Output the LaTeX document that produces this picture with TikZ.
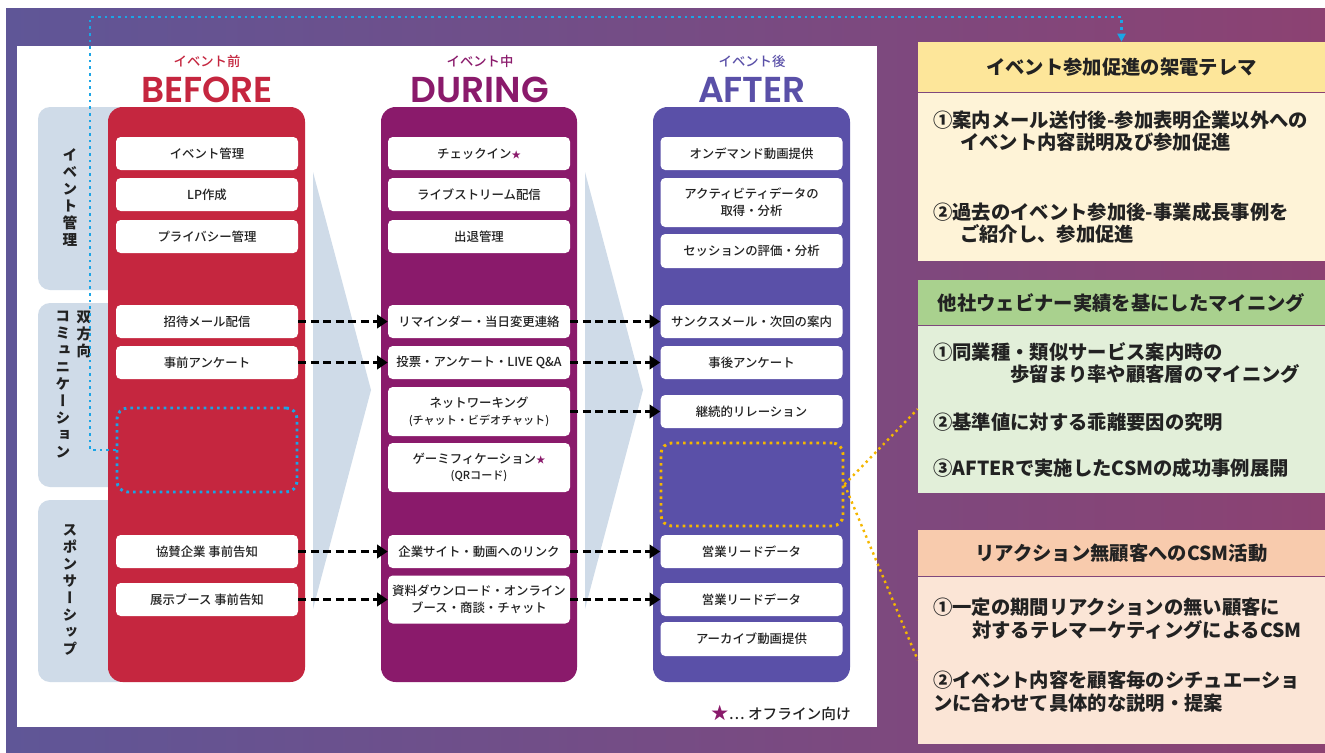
\documentclass[tikz,border=0pt]{standalone}
\usepackage{fontspec}
\setmainfont{Noto Sans CJK JP}
\newfontfamily\headfont{Poppins}[BoldFont={Poppins SemiBold}]
\newfontfamily\itemfont{Noto Sans CJK JP Medium}
\newfontfamily\vertfont{Noto Sans CJK JP}[RawFeature=+vert]
\usetikzlibrary{arrows.meta,positioning,calc}

\definecolor{beforeCol}{HTML}{C5263F}
\definecolor{duringCol}{HTML}{8A1A6B}
\definecolor{afterCol}{HTML}{5A50A8}
\definecolor{catCol}{HTML}{CFDBE8}
\definecolor{bgLeft}{HTML}{5F5697}
\definecolor{bgMid}{HTML}{7E6399}
\definecolor{bgRight}{HTML}{8C4272}
\definecolor{blueDot}{HTML}{1BA5E6}
\definecolor{goldDot}{HTML}{F5B700}
\definecolor{telHeadCol}{HTML}{FDE69A}
\definecolor{telBodyCol}{HTML}{FEF3D7}
\definecolor{mineHeadCol}{HTML}{A9D18E}
\definecolor{mineBodyCol}{HTML}{E2EFD9}
\definecolor{csmHeadCol}{HTML}{F8CBAD}
\definecolor{csmBodyCol}{HTML}{FBE5D6}
\definecolor{inkCol}{HTML}{222222}

\newcommand\offstar{{\color{duringCol}\fontsize{7}{7}\selectfont ★}}

\tikzset{
  item/.style={fill=white, rounded corners=3.5pt, minimum width=136.5pt, inner sep=0pt,
    align=center, text=inkCol, font=\itemfont\fontsize{9.3}{12.5}\selectfont},
  spare/.style={rounded corners=8pt, line width=2.2pt, dash pattern=on 2pt off 3pt},
  flow/.style={line width=2.4pt, dash pattern=on 6pt off 3.4pt, -{Triangle[length=8pt,width=10pt]}},
  bluedot/.style={blueDot, line width=2pt, dash pattern=on 2pt off 3pt, -{Triangle[length=6pt,width=6pt]}},
  golddot/.style={goldDot, line width=1.8pt, dash pattern=on 1.8pt off 2.8pt},
  phasejp/.style={inner sep=0pt, font=\itemfont\fontsize{10}{12}\selectfont},
  phaseen/.style={inner sep=0pt, font=\headfont\bfseries\fontsize{27}{27}\selectfont},
  catlabel/.style={anchor=north, inner sep=0pt, align=center, text=inkCol,
    font=\vertfont\bfseries\fontsize{11}{12.75}\selectfont},
  panelhead/.style={minimum width=305.25pt, inner sep=0pt, text=inkCol,
    font=\bfseries\fontsize{14.5}{17}\selectfont},
  panelbody/.style={minimum width=305.25pt, inner sep=0pt},
  paneltext/.style={anchor=west, inner sep=0pt, text=inkCol, font=\bfseries\fontsize{14.5}{17}\selectfont}
}

\begin{document}
\begin{tikzpicture}[x=0.75pt,y=-0.75pt]
  \useasboundingbox (0,0) rectangle (1325,753);

  % draw the background
  \shade[left color=bgLeft, middle color=bgMid, right color=bgRight] (6,8) rectangle (1325,753);
  \fill[white] (17,46) rectangle (877,727);

  % draw the category tabs and the chevrons
  \foreach \top/\bot in {107/290, 303/487, 500/682}
    \fill[catCol, rounded corners=9pt] (38,\top) rectangle (130,\bot);
  \foreach \x in {313, 585}
    \fill[catCol] (\x,172) -- (\x+58,390) -- (\x,609) -- cycle;

  \node[catlabel] (catEvent) at (70,148) {イ\\ベ\\ン\\ト\\管\\理};
  \node[catlabel] (catTwoWay) at (84,311) {双\\方\\向};
  \node[catlabel] (catComm) at (63,311) {コ\\ミ\\ュ\\ニ\\ケ\\ー\\シ\\ョ\\ン};
  \node[catlabel] (catSponsor) at (70,524) {ス\\ポ\\ン\\サ\\ー\\シ\\ッ\\プ};

  % draw the three phase columns
  \fill[beforeCol, rounded corners=11pt] (108,107) rectangle (305,682);
  \fill[duringCol, rounded corners=11pt] (381,107) rectangle (577,682);
  \fill[afterCol, rounded corners=11pt] (653,107) rectangle (850,682);

  \node[phasejp, text=beforeCol] (beforeJp) at (207,61.5) {イベント前};
  \node[phaseen, text=beforeCol] (beforeEn) at (207,89.5) {BEFORE};
  \node[phasejp, text=duringCol] (duringJp) at (480,61.5) {イベント中};
  \node[phaseen, text=duringCol] (duringEn) at (480,89.5) {DURING};
  \node[phasejp, text=afterCol] (afterJp) at (752,61.5) {イベント後};
  \node[phaseen, text=afterCol] (afterEn) at (752,89.5) {AFTER};

  % fill the columns with the items
  \def\beforeItems{153.5/33/{イベント管理}, 194.5/33/{LP作成}, 236.5/33/{プライバシー管理},
    321.5/33/{招待メール配信}, 362.5/33/{事前アンケート},
    551.5/33/{協賛企業 事前告知}, 599.5/33/{展示ブース 事前告知}}
  \def\duringItems{153.5/33/{チェックイン\offstar}, 194.5/33/{ライブストリーム配信}, 236.5/33/{出退管理},
    321.5/33/{リマインダー・当日変更連絡}, 362.5/33/{投票・アンケート・LIVE Q\&A},
    411.5/49/{ネットワーキング\\{\fontsize{8.3}{10}\selectfont (チャット・ビデオチャット)}},
    467.5/49/{ゲーミフィケーション\offstar\\{\fontsize{8.3}{10}\selectfont (QRコード)}},
    551.5/33/{企業サイト・動画へのリンク}, 599.5/48/{資料ダウンロード・オンライン\\ブース・商談・チャット}}
  \def\afterItems{153.5/33/{オンデマンド動画提供}, 202.5/49/{アクティビティデータの\\取得・分析},
    251/34/{セッションの評価・分析}, 321.5/33/{サンクスメール・次回の案内}, 362.5/33/{事後アンケート},
    411.5/33/{継続的リレーション}, 551.5/33/{営業リードデータ}, 599.5/33/{営業リードデータ},
    639/34/{アーカイブ動画提供}}

  \foreach \y/\h/\txt [count=\ni] in \beforeItems
    \node[item, minimum height={\h*0.75pt}] (b\ni) at (207,\y) {\txt};
  \foreach \y/\h/\txt [count=\ni] in \duringItems
    \node[item, minimum height={\h*0.75pt}] (d\ni) at (479,\y) {\txt};
  \foreach \y/\h/\txt [count=\ni] in \afterItems
    \node[item, minimum height={\h*0.75pt}] (a\ni) at (751.5,\y) {\txt};

  \node[spare, draw=blueDot, minimum width=135pt, minimum height=63pt] (bSpare) at (207,450) {};
  \node[spare, draw=goldDot, minimum width=136.5pt, minimum height=62.25pt] (aSpare) at (752,484.5) {};

  % draw the dashed flows
  \foreach \from/\to in {b4/d4, d4/a4, b5/d5, d5/a5, d6/a6, b6/d8, d8/a7, b7/d9, d9/a8}
    \draw[flow] (\from) -- (\to);

  \node[anchor=east, inner sep=0pt, text=inkCol, font=\itemfont\fontsize{11}{12}\selectfont] (legend)
    at (851,713) {{\color{duringCol}\fontsize{13}{13}\selectfont ★}… オフライン向け};

  % draw the advice panels
  \node[panelhead, fill=telHeadCol, minimum height=37.5pt] (telHead) at (1121.5,67) {イベント参加促進の架電テレマ};
  \node[panelbody, fill=telBodyCol, minimum height=126pt, below=0pt of telHead] (telBody) {};
  \node[panelhead, fill=mineHeadCol, minimum height=33.75pt] (mineHead) at (1121.5,302.5) {他社ウェビナー実績を基にしたマイニング};
  \node[panelbody, fill=mineBodyCol, minimum height=125.25pt, below=0pt of mineHead] (mineBody) {};
  \node[panelhead, fill=csmHeadCol, minimum height=34.5pt] (csmHead) at (1121.5,553) {リアクション無顧客へのCSM活動};
  \node[panelbody, fill=csmBodyCol, minimum height=125.25pt, below=0pt of csmHead] (csmBody) {};

  \foreach \x/\y/\txt [count=\ni] in {933/120/{①案内メール送付後-参加表明企業以外への},
    960/142/{イベント内容説明及び参加促進}, 933/212/{②過去のイベント参加後-事業成長事例を},
    960/234/{ご紹介し、参加促進}}
    \node[paneltext] (tel\ni) at (\x,\y) {\txt};
  \foreach \x/\y/\txt [count=\ni] in {933/352/{①同業種・類似サービス案内時の},
    1010/374/{歩留まり率や顧客層のマイニング}, 933/422/{②基準値に対する乖離要因の究明},
    933/468/{③AFTERで実施したCSMの成功事例展開}}
    \node[paneltext] (mine\ni) at (\x,\y) {\txt};
  \foreach \x/\y/\txt [count=\ni] in {933/607/{①一定の期間リアクションの無い顧客に},
    972/630/{対するテレマーケティングによるCSM}, 933/680/{②イベント内容を顧客毎のシチュエーショ},
    933/703/{ンに合わせて具体的な説明・提案}}
    \node[paneltext] (csm\ni) at (\x,\y) {\txt};

  % draw the links to the panels
  \coordinate (loopCorner) at (90,17);
  \draw[bluedot] (bSpare.west) -| (loopCorner) -| (telHead.north);
  \draw[golddot] (aSpare.east) -- (mineBody.west);
  \draw[golddot] (aSpare.east) -- (csmBody.west);

\end{tikzpicture}
\end{document}
